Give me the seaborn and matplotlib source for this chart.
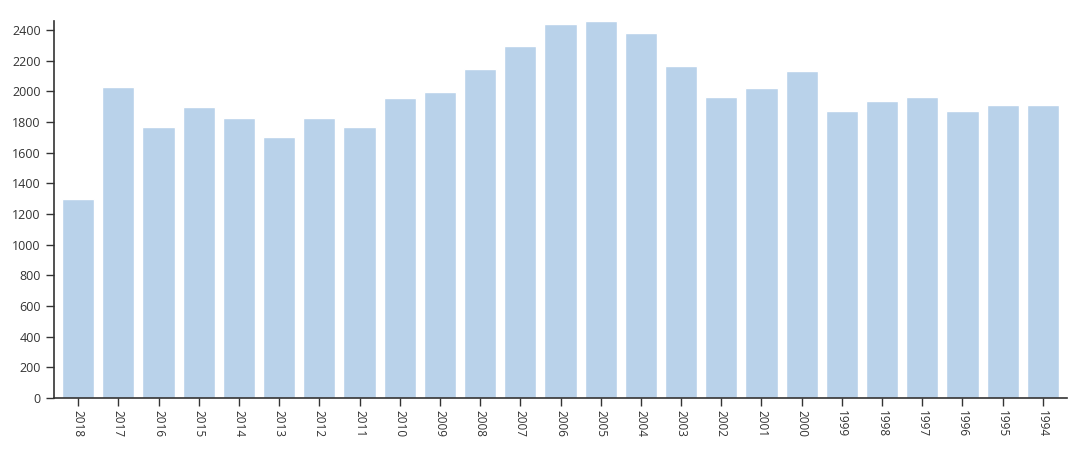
import matplotlib
matplotlib.use("Agg")
import matplotlib.pyplot as plt
import seaborn as sns
import pandas as pd

years = ["2018", "2017", "2016", "2015", "2014", "2013", "2012", "2011", "2010",
         "2009", "2008", "2007", "2006", "2005", "2004", "2003", "2002", "2001",
         "2000", "1999", "1998", "1997", "1996", "1995", "1994"]
values = [1296, 2030, 1770, 1896, 1826, 1700, 1824, 1768, 1955,
          1998, 2146, 2296, 2437, 2457, 2379, 2168, 1965, 2020,
          2131, 1870, 1937, 1961, 1870, 1909, 1913]
y_ticks = [0, 200, 400, 600, 800, 1000, 1200, 1400, 1600, 1800, 2000, 2200, 2400]

sns.set_theme(style="white")
plt.rcParams['font.family'] = ['Open Sans', 'DejaVu Sans']

df = pd.DataFrame({"year": years, "value": values})

fig = plt.figure(figsize=(10.8, 4.59), dpi=100)
ax = fig.add_axes([54 / 1080, 61 / 459, (1067 - 54) / 1080, (398 - 21.3) / 459])

sns.barplot(data=df, x="year", y="value", order=years, color="#b9d2ea",
            saturation=1, width=0.8, ax=ax)

ax.set_xlim(-0.6, len(years) - 0.4)
ax.set_ylim(0, max(values))
ax.set_yticks(y_ticks)
ax.set_xlabel("")
ax.set_ylabel("")

for s in ["top", "right"]:
    ax.spines[s].set_visible(False)
for s in ["left", "bottom"]:
    ax.spines[s].set_color("#333333")
    ax.spines[s].set_linewidth(1.2)

ax.tick_params(axis="both", which="major", direction="out", length=6, width=1,
               color="#333333", labelcolor="#333333", labelsize=9, bottom=True, left=True)
ax.tick_params(axis="x", pad=3)
for lab in ax.get_xticklabels():
    lab.set_rotation(-90)
    lab.set_fontsize(8.5)

fig.savefig("out.png", dpi=100, facecolor="white")
